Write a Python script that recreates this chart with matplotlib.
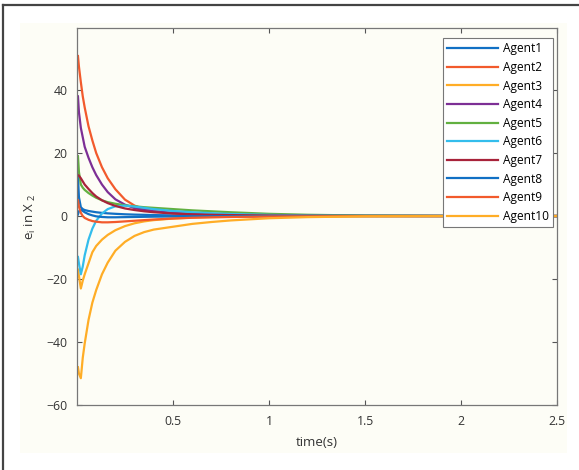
import matplotlib
matplotlib.use("Agg")
import matplotlib.pyplot as plt
from matplotlib.patches import Rectangle
from matplotlib.lines import Line2D

plt.rcParams['font.family'] = ['Open Sans', 'DejaVu Sans']

# time samples (s)
t = [0.005, 0.01, 0.02, 0.03, 0.04, 0.06, 0.08, 0.1, 0.13, 0.16, 0.2, 0.25,
     0.3, 0.35, 0.4, 0.5, 0.6, 0.7, 0.8, 1.0, 1.2, 1.5, 2.0, 2.5]

agent1 = [12.5, 6, 2.8, 2.2, 1.9, 1.6, 1.4, 1.2, 1.0, 0.85, 0.7, 0.55,
          0.45, 0.38, 0.3, 0.2, 0.15, 0.1, 0.08, 0.04, 0.02, 0.01, 0, 0]
agent2 = [50.8, 47.5, 42.5, 38, 34.5, 28.5, 24, 20, 15.5, 12, 8.5, 5.2,
          3.3, 2.2, 1.6, 0.9, 0.6, 0.4, 0.3, 0.15, 0.08, 0.03, 0.01, 0]
agent3 = [-17, -19, -23, -20.5, -18.5, -15, -11.5, -9.5, -7.5, -6, -4.5, -3.2,
          -2.3, -1.7, -1.3, -0.8, -0.5, -0.35, -0.25, -0.12, -0.06, -0.02, 0, 0]
agent4 = [38, 33, 28, 25, 22, 18.5, 15.5, 13, 10, 7.6, 5.3, 3.6,
          2.5, 1.9, 1.5, 1.0, 0.7, 0.5, 0.35, 0.2, 0.1, 0.04, 0.01, 0]
agent5 = [19, 14, 10, 9, 8.3, 7.3, 6.5, 5.8, 5, 4.4, 3.9, 3.4,
          3.1, 2.8, 2.6, 2.2, 1.8, 1.5, 1.2, 0.7, 0.4, 0.15, 0.03, 0]
agent6 = [-13, -15, -18.5, -16, -12.5, -7.5, -4, -1.5, 0.8, 2.2, 3.1, 3.3,
          3.0, 2.6, 2.2, 1.6, 1.2, 0.9, 0.65, 0.35, 0.18, 0.06, 0.01, 0]
agent7 = [13, 12.8, 12, 11, 10, 8.6, 7.3, 6.2, 5, 4.1, 3.2, 2.4,
          1.9, 1.5, 1.2, 0.8, 0.55, 0.4, 0.3, 0.15, 0.08, 0.03, 0.01, 0]
agent8 = [0.5, 1.5, 2, 1.6, 1.2, 0.6, 0.2, -0.1, -0.3, -0.4, -0.4, -0.35,
          -0.3, -0.25, -0.2, -0.15, -0.1, -0.08, -0.05, -0.03, -0.01, 0, 0, 0]
agent9 = [5, 3, 1, 0, -0.6, -1.2, -1.6, -1.8, -2, -2, -1.9, -1.7,
          -1.5, -1.3, -1.1, -0.8, -0.55, -0.4, -0.3, -0.15, -0.08, -0.03, 0, 0]
agent10 = [-48, -50, -51.5, -45, -40.5, -33, -27.5, -23.5, -18.5, -14.8, -11, -8.2,
           -6.3, -5.1, -4.3, -3.4, -2.5, -1.9, -1.4, -0.7, -0.35, -0.1, -0.02, 0]

series = [agent1, agent2, agent3, agent4, agent5, agent6, agent7, agent8, agent9, agent10]
labels = ['Agent%d' % i for i in range(1, 11)]
colors = ['#1170c4', '#f25a2c', '#ffad26', '#7d2f95', '#62b040',
          '#33bdec', '#a8233a', '#1170c4', '#f25a2c', '#ffad26']

xticks = [0.5, 1, 1.5, 2, 2.5]
yticks = [-60, -40, -20, 0, 20, 40]

fig = plt.figure(figsize=(5.79, 4.70), dpi=100, facecolor='white')

# cream panel and the cropped dark frame
fig.add_artist(Rectangle((20 / 579, 1 - 453 / 470), 547 / 579, 430 / 470,
                         transform=fig.transFigure, facecolor='#fdfdf6',
                         edgecolor='none', zorder=0))
fig.add_artist(Line2D([3 / 579, 3 / 579], [0, 1 - 5 / 470], transform=fig.transFigure,
                      color='#444444', lw=1.6))
fig.add_artist(Line2D([3 / 579, 1], [1 - 5 / 470, 1 - 5 / 470], transform=fig.transFigure,
                      color='#444444', lw=1.6))

ax = fig.add_axes([77 / 579, 1 - 405 / 470, 480 / 579, 377 / 470])
ax.set_facecolor('#fdfdf6')

for y, lab, c in zip(series, labels, colors):
    ax.plot(t, y, color=c, lw=1.6, label=lab)

ax.set_xlim(0, 2.5)
ax.set_ylim(-60, 59.7)
ax.set_xticks(xticks)
ax.set_xticklabels(['0.5', '1', '1.5', '2', '2.5'])
ax.set_yticks(yticks)
ax.tick_params(direction='in', length=3.5, width=0.8, top=True, right=True,
               labelsize=8.8, colors='#555555', labelcolor='#333333', pad=7)
for s in ax.spines.values():
    s.set_color('#777777')
    s.set_linewidth(0.9)

ax.set_xlabel('time(s)', fontsize=9.5, color='#333333', labelpad=6)
ax.set_ylabel(r'e$_{\mathregular{i}}$ in X$_{\mathregular{\ 2}}$', fontsize=9.5,
              color='#333333', labelpad=6)

leg = ax.legend(loc='upper right', bbox_to_anchor=(0.992, 0.973), borderaxespad=0,
                fontsize=8.6, handlelength=4.3, handletextpad=0.4, labelspacing=0.47,
                fancybox=False, framealpha=1, edgecolor='#777777', borderpad=0.35)
leg.get_frame().set_linewidth(0.8)
leg.get_frame().set_facecolor('white')

fig.savefig('out.png', dpi=100, facecolor='white')
